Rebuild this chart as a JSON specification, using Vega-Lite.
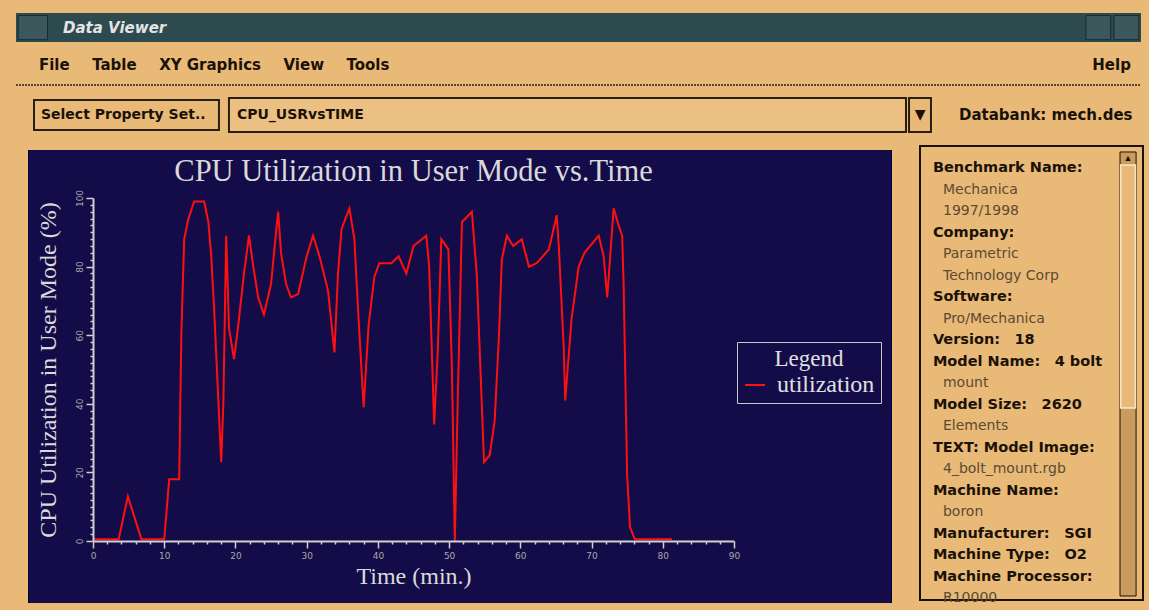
{
  "$schema": "https://vega.github.io/schema/vega-lite/v6.json",
  "background": "#E9B978",
  "padding": {"left": 15, "top": 13, "right": 5, "bottom": 4},
  "config": {"view": {"stroke": null}, "axis": {"labelOverlap": false}},
  "columns": 1,
  "spacing": 4,
  "resolve": {"scale": {"color": "independent"}, "legend": {"color": "independent"}},
  "concat": [
    {
      "width": 1048,
      "height": 127,
      "data": {"values": [{}]},
      "layer": [
        {
          "mark": {"type": "rect", "color": "#2D4A4F"},
          "encoding": {
            "x": {"datum": 0, "type": "quantitative", "scale": {"domain": [0.06844, 1], "nice": false, "zero": false}, "axis": null},
            "x2": {"datum": 1},
            "y": {"datum": 0, "type": "quantitative", "scale": {"domain": [0, 1], "reverse": true, "nice": false, "zero": false}, "axis": null},
            "y2": {"datum": 0.228}
          }
        },
        {
          "mark": {"type": "rect", "color": "#3C585C", "stroke": "#1B2C2F", "strokeWidth": 1},
          "encoding": {"x": {"datum": 0.002}, "x2": {"datum": 0.028}, "y": {"datum": 0.02}, "y2": {"datum": 0.21}}
        },
        {
          "mark": {"type": "rect", "color": "#3C585C", "stroke": "#1B2C2F", "strokeWidth": 1},
          "encoding": {"x": {"datum": 0.951}, "x2": {"datum": 0.973}, "y": {"datum": 0.02}, "y2": {"datum": 0.21}}
        },
        {
          "mark": {"type": "rect", "color": "#3C585C", "stroke": "#1B2C2F", "strokeWidth": 1},
          "encoding": {"x": {"datum": 0.976}, "x2": {"datum": 0.998}, "y": {"datum": 0.02}, "y2": {"datum": 0.21}}
        },
        {
          "mark": {"type": "text", "text": "Data Viewer", "align": "left", "baseline": "middle", "font": "DejaVu Sans", "fontSize": 15, "fontStyle": "italic", "fontWeight": "bold", "color": "#E4E4E4"},
          "encoding": {"x": {"datum": 0.0418}, "y": {"datum": 0.118}}
        },
        {
          "mark": {"type": "text", "text": "File\u2002\u2002\u2002Table\u2002\u2002\u2002XY Graphics\u2002\u2002\u2002View\u2002\u2002\u2002Tools", "align": "left", "baseline": "middle", "font": "DejaVu Sans", "fontSize": 15, "fontWeight": "bold", "color": "#1A1208"},
          "encoding": {"x": {"datum": 0.0204}, "y": {"datum": 0.409}}
        },
        {
          "mark": {"type": "text", "text": "Help", "align": "right", "baseline": "middle", "font": "DejaVu Sans", "fontSize": 15, "fontWeight": "bold", "color": "#1A1208"},
          "encoding": {"x": {"datum": 0.991}, "y": {"datum": 0.409}}
        },
        {
          "mark": {"type": "rule", "color": "#5A4630", "strokeWidth": 2, "strokeDash": [2, 1]},
          "encoding": {"x": {"datum": 0}, "x2": {"datum": 1}, "y": {"datum": 0.567}}
        },
        {
          "mark": {"type": "rect", "color": "#E9B978", "stroke": "#2A1E12", "strokeWidth": 2},
          "encoding": {"x": {"datum": 0.016}, "x2": {"datum": 0.1804}, "y": {"datum": 0.685}, "y2": {"datum": 0.921}}
        },
        {
          "mark": {"type": "rect", "color": "#ECBF82", "stroke": "#2A1E12", "strokeWidth": 2},
          "encoding": {"x": {"datum": 0.1893}, "x2": {"datum": 0.7911}, "y": {"datum": 0.669}, "y2": {"datum": 0.937}}
        },
        {
          "mark": {"type": "rect", "color": "#E9B978", "stroke": "#2A1E12", "strokeWidth": 2},
          "encoding": {"x": {"datum": 0.7938}, "x2": {"datum": 0.8133}, "y": {"datum": 0.669}, "y2": {"datum": 0.937}}
        },
        {
          "mark": {"type": "text", "text": "Select Property Set..", "align": "left", "baseline": "middle", "font": "DejaVu Sans", "fontSize": 14, "fontWeight": "bold", "color": "#1A1208"},
          "encoding": {"x": {"datum": 0.0222}, "y": {"datum": 0.803}}
        },
        {
          "mark": {"type": "text", "text": "CPU_USRvsTIME", "align": "left", "baseline": "middle", "font": "DejaVu Sans", "fontSize": 14, "fontWeight": "bold", "color": "#1A1208"},
          "encoding": {"x": {"datum": 0.1964}, "y": {"datum": 0.803}}
        },
        {
          "mark": {"type": "text", "text": "▼", "align": "center", "baseline": "middle", "font": "DejaVu Sans", "fontSize": 14, "fontWeight": "bold", "color": "#1A1208"},
          "encoding": {"x": {"datum": 0.8036}, "y": {"datum": 0.803}}
        },
        {
          "mark": {"type": "text", "text": "Databank: mech.des", "align": "left", "baseline": "middle", "font": "DejaVu Sans", "fontSize": 15, "fontWeight": "bold", "color": "#1A1208"},
          "encoding": {"x": {"datum": 0.8382}, "y": {"datum": 0.803}}
        }
      ]
    },
    {
      "columns": 2,
      "spacing": 27,
      "resolve": {"scale": {"color": "independent"}, "legend": {"color": "independent"}},
      "concat": [
        {
          "width": 641,
          "height": 343,
          "title": {"text": "CPU Utilization in User Mode vs.Time", "font": "Liberation Serif", "fontSize": 30.5, "fontWeight": "normal", "color": "#D9D9D9", "anchor": "middle", "frame": "group", "baseline": "alphabetic", "offset": -65},
          "data": {"values": [
            {"t": 0, "u": 0.5, "series": "utilization"},
            {"t": 3.6, "u": 0.5, "series": "utilization"},
            {"t": 4.9, "u": 13, "series": "utilization"},
            {"t": 6.8, "u": 0.5, "series": "utilization"},
            {"t": 10, "u": 0.5, "series": "utilization"},
            {"t": 10.7, "u": 18, "series": "utilization"},
            {"t": 12.1, "u": 18, "series": "utilization"},
            {"t": 12.4, "u": 60, "series": "utilization"},
            {"t": 12.8, "u": 88, "series": "utilization"},
            {"t": 13.4, "u": 94, "series": "utilization"},
            {"t": 14.2, "u": 99, "series": "utilization"},
            {"t": 15.6, "u": 99, "series": "utilization"},
            {"t": 16.2, "u": 93, "series": "utilization"},
            {"t": 16.6, "u": 83, "series": "utilization"},
            {"t": 17.0, "u": 68, "series": "utilization"},
            {"t": 17.4, "u": 50, "series": "utilization"},
            {"t": 18.0, "u": 23, "series": "utilization"},
            {"t": 18.3, "u": 40, "series": "utilization"},
            {"t": 18.7, "u": 89, "series": "utilization"},
            {"t": 19.1, "u": 62, "series": "utilization"},
            {"t": 19.8, "u": 53, "series": "utilization"},
            {"t": 20.4, "u": 63, "series": "utilization"},
            {"t": 21.2, "u": 78, "series": "utilization"},
            {"t": 21.9, "u": 89, "series": "utilization"},
            {"t": 22.5, "u": 80, "series": "utilization"},
            {"t": 23.2, "u": 71, "series": "utilization"},
            {"t": 24.0, "u": 66, "series": "utilization"},
            {"t": 25.0, "u": 75, "series": "utilization"},
            {"t": 25.7, "u": 90, "series": "utilization"},
            {"t": 26.0, "u": 96, "series": "utilization"},
            {"t": 26.4, "u": 84, "series": "utilization"},
            {"t": 27.1, "u": 75, "series": "utilization"},
            {"t": 27.8, "u": 71, "series": "utilization"},
            {"t": 28.8, "u": 72, "series": "utilization"},
            {"t": 30.0, "u": 83, "series": "utilization"},
            {"t": 30.9, "u": 89, "series": "utilization"},
            {"t": 31.8, "u": 83, "series": "utilization"},
            {"t": 33.0, "u": 73, "series": "utilization"},
            {"t": 33.9, "u": 55, "series": "utilization"},
            {"t": 34.4, "u": 78, "series": "utilization"},
            {"t": 34.9, "u": 91, "series": "utilization"},
            {"t": 36.0, "u": 97, "series": "utilization"},
            {"t": 36.7, "u": 88, "series": "utilization"},
            {"t": 37.2, "u": 68, "series": "utilization"},
            {"t": 38.0, "u": 39, "series": "utilization"},
            {"t": 38.7, "u": 63, "series": "utilization"},
            {"t": 39.5, "u": 77, "series": "utilization"},
            {"t": 40.2, "u": 81, "series": "utilization"},
            {"t": 41.9, "u": 81, "series": "utilization"},
            {"t": 42.9, "u": 83, "series": "utilization"},
            {"t": 44.0, "u": 78, "series": "utilization"},
            {"t": 45.0, "u": 86, "series": "utilization"},
            {"t": 46.8, "u": 89, "series": "utilization"},
            {"t": 47.2, "u": 80, "series": "utilization"},
            {"t": 47.9, "u": 34, "series": "utilization"},
            {"t": 48.4, "u": 55, "series": "utilization"},
            {"t": 48.9, "u": 88, "series": "utilization"},
            {"t": 49.9, "u": 85, "series": "utilization"},
            {"t": 50.4, "u": 50, "series": "utilization"},
            {"t": 50.8, "u": 0, "series": "utilization"},
            {"t": 51.2, "u": 40, "series": "utilization"},
            {"t": 51.8, "u": 93, "series": "utilization"},
            {"t": 53.2, "u": 96, "series": "utilization"},
            {"t": 53.9, "u": 77, "series": "utilization"},
            {"t": 54.9, "u": 23, "series": "utilization"},
            {"t": 55.7, "u": 25, "series": "utilization"},
            {"t": 56.4, "u": 35, "series": "utilization"},
            {"t": 57.0, "u": 60, "series": "utilization"},
            {"t": 57.4, "u": 82, "series": "utilization"},
            {"t": 58.1, "u": 89, "series": "utilization"},
            {"t": 59.0, "u": 86, "series": "utilization"},
            {"t": 60.2, "u": 88, "series": "utilization"},
            {"t": 61.2, "u": 80, "series": "utilization"},
            {"t": 62.3, "u": 81, "series": "utilization"},
            {"t": 64.0, "u": 85, "series": "utilization"},
            {"t": 64.9, "u": 93, "series": "utilization"},
            {"t": 65.1, "u": 95, "series": "utilization"},
            {"t": 65.4, "u": 86, "series": "utilization"},
            {"t": 66.1, "u": 56, "series": "utilization"},
            {"t": 66.3, "u": 41, "series": "utilization"},
            {"t": 67.2, "u": 65, "series": "utilization"},
            {"t": 68.2, "u": 80, "series": "utilization"},
            {"t": 69.0, "u": 84, "series": "utilization"},
            {"t": 71.0, "u": 89, "series": "utilization"},
            {"t": 71.7, "u": 83, "series": "utilization"},
            {"t": 72.2, "u": 71, "series": "utilization"},
            {"t": 73.1, "u": 97, "series": "utilization"},
            {"t": 73.8, "u": 92, "series": "utilization"},
            {"t": 74.3, "u": 89, "series": "utilization"},
            {"t": 74.5, "u": 75, "series": "utilization"},
            {"t": 75.0, "u": 19, "series": "utilization"},
            {"t": 75.4, "u": 4, "series": "utilization"},
            {"t": 76.1, "u": 0.5, "series": "utilization"},
            {"t": 81.3, "u": 0.5, "series": "utilization"}
          ]},
          "encoding": {
            "x": {
              "type": "quantitative",
              "scale": {"domain": [0, 90], "nice": false, "zero": false},
              "axis": {
                "title": "Time (min.)",
                "zindex": 1,
                "values": [0,2,4,6,8,10,12,14,16,18,20,22,24,26,28,30,32,34,36,38,40,42,44,46,48,50,52,54,56,58,60,62,64,66,68,70,72,74,76,78,80,82,84,86,88,90],
                "labelExpr": "datum.value % 10 === 0 ? datum.label : ''",
                "tickSize": {"condition": {"test": "datum.value % 10 === 0", "value": 7}, "value": 3},
                "grid": false,
                "domainColor": "#CFCFCF", "domainWidth": 2,
                "tickColor": "#CFCFCF", "tickWidth": 1.5,
                "labelColor": "#A8A8A8", "labelFont": "DejaVu Sans", "labelFontSize": 9, "labelPadding": 3,
                "labelOverlap": false, "labelFlush": false,
                "titleFont": "Liberation Serif", "titleFontSize": 24, "titleFontWeight": "normal", "titleColor": "#DADADA", "titlePadding": 4
              }
            },
            "y": {
              "type": "quantitative",
              "scale": {"domain": [0, 100], "nice": false, "zero": false},
              "axis": {
                "title": "CPU Utilization in User Mode (%)",
                "zindex": 1,
                "values": [0,2,4,6,8,10,12,14,16,18,20,22,24,26,28,30,32,34,36,38,40,42,44,46,48,50,52,54,56,58,60,62,64,66,68,70,72,74,76,78,80,82,84,86,88,90,92,94,96,98,100],
                "labelExpr": "datum.value % 20 === 0 ? datum.label : ''",
                "tickSize": {"condition": {"test": "datum.value % 20 === 0", "value": 7}, "value": 3},
                "grid": false,
                "labelAngle": 270,
                "domainColor": "#CFCFCF", "domainWidth": 2,
                "tickColor": "#CFCFCF", "tickWidth": 1.5,
                "labelColor": "#A8A8A8", "labelFont": "DejaVu Sans", "labelFontSize": 9, "labelPadding": 2,
                "labelOverlap": false, "labelFlush": false,
                "titleFont": "Liberation Serif", "titleFontSize": 24, "titleFontWeight": "normal", "titleColor": "#DADADA", "titlePadding": 15
              }
            }
          },
          "layer": [
            {
              "mark": {"type": "rect", "opacity": 0},
              "encoding": {
                "x": {"datum": -10.81},
                "x2": {"datum": 112.05},
                "y": {"datum": -18.08},
                "y2": {"datum": 115.16}
              }
            },
            {
              "mark": {"type": "rect", "color": "#140C48"},
              "encoding": {
                "x": {"datum": -8.99},
                "x2": {"datum": 112.05},
                "y": {"datum": -18.08},
                "y2": {"datum": 114.0}
              }
            },
            {
              "mark": {"type": "line", "strokeWidth": 2, "interpolate": "linear"},
              "encoding": {
                "x": {"field": "t"},
                "y": {"field": "u"},
                "color": {
                  "field": "series", "type": "nominal",
                  "scale": {"range": ["#FF1010"]},
                  "legend": {
                    "title": "Legend", "orient": "none", "legendX": 644, "legendY": 144,
                    "titleFont": "Liberation Serif", "titleFontSize": 23, "titleFontWeight": "normal", "titleColor": "#E0E0E0", "titleAnchor": "middle", "titlePadding": 2,
                    "labelFont": "Liberation Serif", "labelFontSize": 24, "labelColor": "#E0E0E0", "labelOffset": 10,
                    "symbolType": "stroke", "symbolStrokeWidth": 2, "symbolSize": 400, "symbolStrokeColor": "#FF1010",
                    "strokeColor": "#C8C8C8", "fillColor": "#140C48", "padding": 6, "zindex": 2
                  }
                }
              }
            }
          ]
        },
        {
          "width": 223,
          "height": 402,
          "data": {"values": [
            {"line": 1, "kind": "label", "text": "Benchmark Name:"},
            {"line": 2, "kind": "value", "text": "Mechanica"},
            {"line": 3, "kind": "value", "text": "1997/1998"},
            {"line": 4, "kind": "label", "text": "Company:"},
            {"line": 5, "kind": "value", "text": "Parametric"},
            {"line": 6, "kind": "value", "text": "Technology Corp"},
            {"line": 7, "kind": "label", "text": "Software:"},
            {"line": 8, "kind": "value", "text": "Pro/Mechanica"},
            {"line": 9, "kind": "label", "text": "Version:\u2002\u200218"},
            {"line": 10, "kind": "label", "text": "Model Name:\u2002\u20024 bolt"},
            {"line": 11, "kind": "value", "text": "mount"},
            {"line": 12, "kind": "label", "text": "Model Size:\u2002\u20022620"},
            {"line": 13, "kind": "value", "text": "Elements"},
            {"line": 14, "kind": "label", "text": "TEXT: Model Image:"},
            {"line": 15, "kind": "value", "text": "4_bolt_mount.rgb"},
            {"line": 16, "kind": "label", "text": "Machine Name:"},
            {"line": 17, "kind": "value", "text": "boron"},
            {"line": 18, "kind": "label", "text": "Manufacturer:\u2002\u2002SGI"},
            {"line": 19, "kind": "label", "text": "Machine Type:\u2002\u2002O2"},
            {"line": 20, "kind": "label", "text": "Machine Processor:"},
            {"line": 21, "kind": "value", "text": "R10000"}
          ]},
          "layer": [
            {
              "data": {"values": [{}]},
              "mark": {"type": "rect", "color": "#E9B978", "stroke": "#1A1208", "strokeWidth": 2},
              "encoding": {
                "x": {"datum": 0, "type": "quantitative", "scale": {"domain": [0, 1], "nice": false, "zero": false}, "axis": null},
                "x2": {"datum": 1},
                "y": {"datum": -0.024, "type": "quantitative", "scale": {"domain": [2.395, 21.093], "reverse": true, "nice": false, "zero": false}, "axis": null},
                "y2": {"datum": 21.093}
              }
            },
            {
              "data": {"values": [{}]},
              "mark": {"type": "rect", "color": "#C99C5E", "stroke": "#1A1208", "strokeWidth": 1},
              "encoding": {"x": {"datum": 0.897}, "x2": {"datum": 0.969}, "y": {"datum": 0.255}, "y2": {"datum": 20.907}}
            },
            {
              "data": {"values": [{}]},
              "mark": {"type": "rect", "color": "#E9B978", "stroke": "#F6E7CC", "strokeWidth": 1.5},
              "encoding": {"x": {"datum": 0.9}, "x2": {"datum": 0.966}, "y": {"datum": 0.86}, "y2": {"datum": 12.16}}
            },
            {
              "data": {"values": [{}]},
              "mark": {"type": "text", "text": "▲", "align": "center", "baseline": "middle", "fontSize": 9, "color": "#1A1208"},
              "encoding": {"x": {"datum": 0.933}, "y": {"datum": 0.535}}
            },
            {
              "mark": {"type": "text", "align": "left", "baseline": "middle", "font": "DejaVu Sans", "fontSize": 14.5, "fontWeight": "bold", "color": "#1A1208"},
              "transform": [{"filter": "datum.kind === 'label'"}],
              "encoding": {
                "x": {"datum": 0.058},
                "y": {"field": "line", "type": "quantitative"},
                "text": {"field": "text"}
              }
            },
            {
              "mark": {"type": "text", "align": "left", "baseline": "middle", "font": "DejaVu Sans", "fontSize": 14, "color": "#5C4A32"},
              "transform": [{"filter": "datum.kind === 'value'"}],
              "encoding": {
                "x": {"datum": 0.103},
                "y": {"field": "line", "type": "quantitative"},
                "text": {"field": "text"}
              }
            }
          ]
        }
      ]
    }
  ]
}
